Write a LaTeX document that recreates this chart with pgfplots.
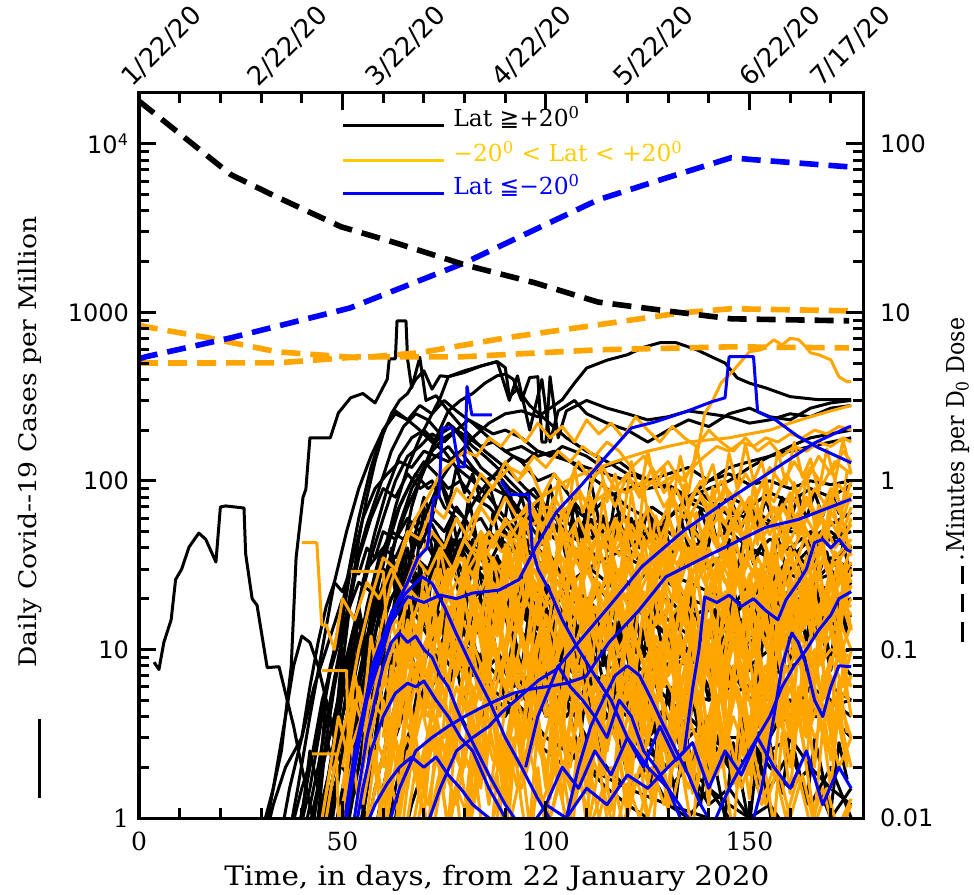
\documentclass[border=0pt]{standalone}
\usepackage{fontspec}
\setmainfont{DejaVu Serif}
\newfontfamily\tsans{DejaVu Sans}
\newfontfamily\lserif[FakeStretch=1.1]{DejaVu Serif}
\newfontfamily\nserif[FakeStretch=0.9]{DejaVu Serif}
\usepackage{pgfplots}
\pgfplotsset{compat=1.18}
\definecolor{cor}{HTML}{FFA500}
\definecolor{cbl}{HTML}{0000FF}
\definecolor{cgold}{HTML}{FFCC00}
\newcommand{\fs}[1]{\fontsize{#1}{#1}\selectfont}
\tikzset{dl/.style={rotate=45, anchor=base west, inner sep=0, font={\tsans\fs{13}}},
  tk/.style={black, line width=1.5pt}}
\pgfplotsset{
  every axis/.append style={
    scale only axis, width=362pt, height=362.5pt, at={(0,0)}, anchor=south west,
    xmin=0, xmax=177.9, ymode=log, axis on top,
    tick align=inside, major tick length=8.5pt, minor tick length=5pt,
    axis line style={line width=1.5pt},
    major tick style={draw=black, line width=1.5pt},
    minor tick style={draw=black, line width=1.5pt},
    clip mode=individual,
  },
  bk/.style={black, line width=1.5pt, line join=round},
  og/.style={cor, line width=1.5pt, line join=round},
  bu/.style={cbl, line width=1.5pt, line join=round},
  dsh/.style={line width=2.8pt, dash pattern=on 9.5pt off 5pt},
}
\begin{document}
\begin{tikzpicture}
\path[use as bounding box] (-69.5pt,-38pt) rectangle (417.5pt,409pt);
\begin{axis}[
  ymin=1, ymax=2e4,
  xtick={0,50,100,150}, xticklabels={0,50,100,150},
  minor xtick={10,20,30,40,60,70,80,90,110,120,130,140,160,170},
  xtick pos=both, ytick pos=left,
  ytick={1,10,100,1000,10000},
  yticklabels={{\fs{12.5}\rmfamily 1},10,100,1000,10\textsuperscript{4}},
  minor ytick={2,3,4,5,6,7,8,9,20,30,40,50,60,70,80,90,200,300,400,500,600,700,800,900,2000,3000,4000,5000,6000,7000,8000,9000},
  xticklabel style={font={\fs{12.5}}, yshift=-3.5pt},
  yticklabel style={font={\tsans\fs{12}}, xshift=-1.5pt},
]
% black: Lat >= +20
\addplot[bk] coordinates {(3.7,8.4)(4.9,7.6)(6.1,11)(7.9,15)(9,26)(10.5,30)(12.3,40.5)(14.7,49)(16.4,45)(18.9,33)(20,70)(21.3,71)(25.8,69)(26.2,37)(27.8,20)(29,18.3)(31.5,7.8)(34.4,7.9)(36,5.5)(38,3.5)(40,2)(42,1.2)(44,0.7)};
\addplot[bk] coordinates {(30,0.8)(33,1.5)(35,2.5)(37.4,7.9)(38.6,35)(40.3,80)(41,89)(42,180)(47,180)(49,253)(52,311)(55,330)(58,290)(61,400)(61.5,530)(63,530)(63.4,890)(65.6,890)(66,525)(67,356)(69,540)(70.5,300)(73,320)(76,260)(80,200)(85,150)(90,120)(95,90)(100,70)(105,50)(110,40)(120,25)(130,15)(140,10)(150,12)(160,15)(170,25)(175,30)};
\addplot[bk] coordinates {(45,1)(48,3)(50,8)(52,20)(54,45)(56,80)(58,130)(60,190)(62,250)(64,300)(66,330)(68,400)(70,450)(72,350)(74,420)(76,415)(80,450)(84,480)(88,510)(91,300)(93,420)(96,200)(99,400)(101,170)(103,260)(107,300)(110,250)(115,220)(120,200)(125,170)(130,200)(135,230)(140,210)(145,250)(150,270)(155,240)(160,230)(165,270)(170,290)(175,300)};
\addplot[bk] coordinates {(38,0.6)(42,1.5)(45,4)(48,10)(51,25)(54,60)(57,120)(60,200)(63,260)(66,230)(69,280)(72,250)(75,300)(78,260)(82,220)(86,180)(90,150)(94,130)(98,100)(102,110)(106,80)(110,60)(115,55)(120,40)(125,30)(130,25)(135,20)(140,18)(145,15)(150,20)(155,25)(160,30)(165,40)(170,45)(175,50)};
\addplot[bk] coordinates {(40,0.7)(44,2)(47,5)(50,12)(53,30)(56,55)(59,90)(62,150)(65,210)(68,250)(71,230)(74,190)(77,210)(80,170)(84,120)(88,100)(92,70)(96,55)(100,40)(105,25)(110,18)(115,12)(120,9)(125,7)(130,5)(135,4)(140,3)(145,2.5)(150,2)(155,2.5)(160,3)(165,2)(170,1.5)(175,1.2)};
\addplot[bk] coordinates {(42,0.8)(45,2)(48,4)(51,9)(54,18)(57,35)(60,60)(63,100)(66,140)(69,160)(72,190)(75,170)(78,200)(81,180)(84,160)(87,170)(90,150)(94,160)(98,140)(102,150)(106,130)(110,120)(115,110)(120,100)(125,90)(130,95)(135,80)(140,90)(145,100)(150,120)(155,140)(160,160)(165,180)(170,190)(175,200)};
\addplot[bk] coordinates {(35,0.5)(40,1.5)(44,3)(47,8)(50,15)(52,30)(55,60)(58,90)(61,110)(64,130)(67,120)(70,150)(73,140)(76,160)(79,130)(83,110)(87,90)(91,80)(95,60)(100,50)(105,40)(110,30)(115,35)(120,40)(125,50)(130,60)(135,80)(140,100)(145,120)(150,130)(155,140)(160,150)(165,160)(170,170)(175,180)};
\addplot[bk] coordinates {(45,0.6)(48,1.5)(51,3)(54,6)(57,12)(60,25)(63,45)(66,70)(69,100)(72,150)(75,180)(78,200)(81,230)(84,210)(87,190)(90,200)(94,180)(98,150)(102,140)(106,130)(110,110)(115,90)(120,70)(125,60)(130,50)(135,40)(140,45)(145,50)(150,40)(155,35)(160,40)(165,30)(170,35)(175,30)};
\addplot[bk] coordinates {(30,0.6)(33,1.2)(36,2)(40,3)(43,6)(46,10)(50,20)(53,15)(56,30)(60,40)(63,35)(66,50)(70,45)(74,30)(78,35)(82,20)(86,25)(90,15)(95,12)(100,10)(105,8)(110,6)(115,7)(120,5)(125,4)(130,3)(135,4)(140,3)(145,2)(150,3)(155,2)(160,1.5)(165,2)(170,1)(175,1.5)};
\addplot[bk] coordinates {(48,0.8)(51,2)(54,5)(57,10)(60,20)(63,30)(66,50)(69,40)(72,60)(75,50)(78,70)(81,55)(84,60)(87,45)(90,50)(94,35)(98,40)(102,30)(106,25)(110,30)(115,20)(120,25)(125,18)(130,20)(135,15)(140,18)(145,12)(150,15)(155,10)(160,12)(165,8)(170,10)(175,7)};
\addplot[bk] coordinates {(50,0.6)(53,1.5)(56,4)(59,8)(62,15)(65,25)(68,35)(71,30)(74,45)(77,35)(80,40)(84,30)(88,35)(92,25)(96,20)(100,25)(105,15)(110,12)(115,15)(120,10)(125,12)(130,8)(135,10)(140,6)(145,8)(150,5)(155,7)(160,4)(165,6)(170,5)(175,4)};
\addplot[bk] coordinates {(52,0.7)(55,2)(58,5)(61,12)(64,20)(67,30)(70,25)(73,40)(76,30)(79,45)(82,35)(86,50)(90,40)(94,55)(98,60)(102,50)(106,70)(110,60)(115,80)(120,90)(125,100)(130,110)(135,120)(140,100)(145,110)(150,95)(155,100)(160,90)(165,100)(170,95)(175,100)};
\addplot[bk] coordinates {(55,0.6)(58,1.5)(61,3)(64,6)(67,10)(70,8)(73,15)(76,12)(79,20)(82,15)(85,25)(89,18)(93,22)(97,15)(101,20)(105,12)(110,15)(115,10)(120,14)(125,9)(130,12)(135,8)(140,10)(145,15)(150,20)(155,25)(160,35)(165,45)(170,55)(175,65)};
\addplot[bk] coordinates {(58,0.8)(61,2)(64,4)(67,7)(70,5)(73,9)(76,6)(79,10)(82,7)(86,12)(90,8)(94,11)(98,6)(102,9)(106,5)(110,8)(115,4)(120,6)(125,3)(130,5)(135,2)(140,4)(145,2)(150,3)(155,1.5)(160,2.5)(165,1.2)(170,2)(175,1)};
\addplot[bk] coordinates {(44,0.6)(47,1.5)(50,3)(53,7)(56,15)(59,30)(62,55)(65,80)(68,110)(71,90)(74,100)(77,70)(80,60)(84,40)(88,30)(92,20)(96,14)(100,10)(105,7)(110,5)(115,4)(120,3)(125,2.5)(130,2)(135,3)(140,4)(145,6)(150,8)(155,10)(160,15)(165,12)(170,18)(175,20)};
\addplot[bk] coordinates {(60,0.6)(63,1.5)(66,3)(69,5)(72,8)(75,12)(78,10)(81,15)(84,12)(88,18)(92,14)(96,20)(100,16)(105,22)(110,18)(115,25)(120,20)(125,30)(130,25)(135,35)(140,30)(145,40)(150,35)(155,45)(160,40)(165,50)(170,45)(175,55)};
\addplot[bk] coordinates {(46,0.7)(49,1.8)(52,4)(55,9)(58,20)(61,40)(64,70)(67,100)(70,130)(73,110)(76,90)(79,100)(82,80)(86,70)(90,55)(95,40)(100,30)(105,22)(110,16)(115,12)(120,10)(125,9)(130,8)(135,10)(140,12)(145,10)(150,14)(155,12)(160,16)(165,20)(170,18)(175,25)};
\addplot[bk] coordinates {(50,0.8)(54,2)(58,6)(62,15)(66,30)(70,60)(74,100)(78,140)(82,180)(86,220)(90,250)(94,260)(98,240)(102,280)(104,303)(107,380)(110,467)(115,520)(120,560)(124,620)(128,660)(132,660)(137,600)(141,540)(144,500)(147,408)(150,380)(154,356)(160,316)(167,303)(175,303)};
\addplot[bk] coordinates {(55,1)(58,3)(61,10)(64,30)(67,70)(70,120)(73,180)(76,260)(79,300)(82,330)(85,380)(88,420)(90,430)(92,400)(94,300)(96,410)(98,415)(99,170)(100,170)(101,415)(103,180)(105,260)(110,300)(115,270)(120,250)(125,230)(130,240)(135,260)(140,250)(145,240)(150,220)(155,230)(160,250)(165,240)(170,270)(175,280)};
\addplot[bk] coordinates {(48,0.8)(51,2)(54,6)(57,15)(60,35)(63,70)(66,120)(69,180)(72,250)(74,310)(76,415)(80,440)(84,480)(88,510)(90,470)(91,316)(93,350)(96,280)(100,230)(105,180)(110,150)(115,130)(120,110)(125,100)(130,90)(135,80)(140,70)(145,65)(150,60)(155,55)(160,50)(165,48)(170,45)(175,40)};
\addplot[bk] coordinates {(36,0.6)(39,1.5)(42,4)(45,10)(48,25)(51,50)(54,90)(57,140)(60,200)(63,250)(66,230)(69,200)(72,170)(75,150)(78,120)(82,100)(86,80)(90,60)(95,45)(100,35)(105,25)(110,20)(115,15)(120,12)(125,10)(130,9)(135,8)(140,10)(145,12)(150,11)(155,13)(160,15)(165,12)(170,14)(175,16)};
\addplot[bk] coordinates {(62,0.7)(65,2)(68,5)(71,12)(74,25)(77,40)(80,60)(83,80)(86,100)(89,120)(92,140)(95,130)(98,150)(101,140)(104,160)(107,150)(110,140)(114,120)(118,130)(122,110)(126,100)(130,90)(134,80)(138,85)(142,70)(146,60)(150,70)(154,60)(158,50)(162,55)(166,45)(170,50)(175,40)};
\addplot[bk] coordinates {(40,0.5)(43,1.2)(46,2.5)(49,5)(52,9)(55,14)(58,20)(61,18)(64,25)(67,20)(70,15)(73,18)(76,12)(79,10)(82,8)(86,6)(90,5)(95,4)(100,3)(105,2.5)(110,2)(115,1.5)(120,1.2)(125,1)(130,0.8)(140,0.6)};
\addplot[bk] coordinates {(53,0.6)(56,1.5)(59,3.5)(62,8)(65,14)(68,22)(71,30)(74,25)(77,35)(80,28)(83,40)(86,32)(89,45)(92,38)(95,50)(98,42)(102,55)(106,45)(110,60)(114,50)(118,65)(122,55)(126,70)(130,60)(135,75)(140,65)(145,80)(150,70)(155,85)(160,75)(165,90)(170,80)(175,95)};
\addplot[bk] coordinates {(47,0.5)(50,1.2)(53,3)(56,7)(59,12)(62,20)(65,28)(68,24)(71,20)(74,16)(77,12)(80,9)(84,7)(88,5)(92,4)(96,3)(100,2.5)(105,2)(110,3)(115,2)(120,1.5)(125,2)(130,1.2)(135,1)(140,1.5)(145,1)(150,0.8)};
\addplot[bk] coordinates {(57,0.6)(60,1.5)(63,3)(66,5)(69,8)(72,6)(75,9)(78,7)(82,10)(86,6)(90,8)(95,5)(100,7)(105,4)(110,6)(115,3)(120,5)(125,3)(130,4)(135,2)(140,3)(145,2)(150,4)(155,3)(160,5)(165,4)(170,6)(175,5)};
\addplot[bk] coordinates {(64,0.6)(67,1.2)(70,2)(73,3)(76,2.5)(79,4)(82,3)(86,5)(90,4)(94,6)(98,5)(102,8)(106,6)(110,10)(114,8)(118,12)(122,10)(126,15)(130,12)(134,18)(138,15)(142,20)(146,18)(150,25)(155,20)(160,28)(165,24)(170,32)(175,30)};
\addplot[bk] coordinates {(34,0.6)(37,1.5)(40,3)(42,6)(44,11)(46,18)(48,25)(50,22)(52,30)(54,28)(56,40)(58,35)(60,50)(63,45)(66,60)(69,50)(72,55)(75,40)(78,45)(82,30)(86,25)(90,20)(95,15)(100,12)(105,9)(110,7)(115,5)(120,4)(125,3)(130,2.5)(135,2)(140,1.5)(145,1.2)(150,1)};
\addplot[bk] coordinates {(41,0.5)(44,1)(47,2)(50,4)(53,8)(56,12)(59,18)(62,14)(65,20)(68,16)(71,12)(74,14)(77,9)(80,11)(84,7)(88,9)(92,6)(96,7)(100,4)(105,5)(110,3)(115,4)(120,2)(125,3)(130,1.5)(135,2)(140,1.2)(145,1.5)(150,1)(155,1.2)(160,0.8)};
\addplot[bk] coordinates {(30,0.6)(33,1.5)(36,4)(38,8)(40,12)(42,11)(44,8)(46,5)(48,3)(50,2)(53,1.5)(56,1)(60,0.7)};
\addplot[bk] coordinates {(43,0.6)(46,1.5)(49,4)(52,10)(55,25)(58,50)(61,90)(64,140)(67,180)(70,200)(73,170)(76,220)(79,190)(82,160)(85,140)(88,120)(91,100)(95,80)(99,60)(103,50)(107,40)(111,30)(115,25)(120,20)(125,15)(130,12)(135,10)(140,8)(145,7)(150,6)(155,5)(160,5)(165,4)(170,4)(175,3)};
\addplot[bk] coordinates {(49,0.7)(52,2)(55,5)(58,12)(61,28)(64,55)(67,90)(70,120)(73,140)(76,130)(79,150)(82,120)(85,100)(88,110)(91,90)(94,80)(97,90)(100,70)(104,60)(108,50)(112,45)(116,40)(120,35)(125,30)(130,28)(135,25)(140,22)(145,20)(150,18)(155,20)(160,22)(165,25)(170,28)(175,32)};
\addplot[bk] coordinates {(42,0.7)(45,2)(48,6)(51,15)(54,35)(57,60)(60,90)(63,80)(66,110)(69,90)(72,100)(75,70)(78,60)(82,40)(86,30)(90,25)(95,18)(100,14)(105,10)(110,8)(115,6)(120,5)(130,4)(140,3)(150,3)(160,4)(175,5)};
\addplot[bk] coordinates {(47,0.8)(50,2.5)(53,7)(56,18)(59,35)(62,50)(65,45)(68,60)(71,50)(74,40)(77,45)(80,35)(84,28)(88,22)(92,18)(96,15)(100,12)(105,10)(110,9)(115,8)(120,7)(130,6)(140,5)(150,6)(160,8)(175,10)};
\addplot[bk] coordinates {(39,0.8)(42,2)(45,5)(48,9)(51,16)(54,25)(57,22)(60,30)(63,26)(66,20)(69,24)(72,18)(75,14)(78,16)(81,11)(84,9)(88,7)(92,5)(96,4)(100,3)(105,2.5)(110,2)(120,1.5)(130,1.2)(140,1)};
\addplot[bk] coordinates {(44,1)(46,3)(48,2)(50,6)(52,4)(54,12)(56,7)(58,20)(60,11)(62,30)(64,16)(66,40)(68,22)(70,14)(72,35)(74,20)(76,45)(78,25)(80,15)(82,35)(84,20)(86,12)(88,28)(90,16)(92,10)(94,22)(96,13)(98,8)(100,18)(102,10)(104,6)(106,14)(108,8)(110,5)(112,11)(114,6.5)(116,4)(118,9)(120,5)(122,3)(124,7)(126,4)(128,2.5)(130,6)(132,3.5)(134,2)(136,5)(138,3)(140,1.8)(142,4.5)(144,2.6)(146,1.6)(148,4)(150,2.4)(152,1.5)(154,3.6)(156,2.2)(158,1.4)(160,3.2)(162,2)(164,1.2)(166,3)(168,1.8)(170,1.1)(172,2.8)(174,1.7)};
\addplot[bk] coordinates {(40,1)(42,2.5)(44,1.5)(46,5)(48,3)(50,10)(52,6)(54,18)(56,10)(58,28)(60,15)(62,40)(64,22)(66,55)(68,30)(70,70)(72,40)(74,25)(76,55)(78,32)(80,20)(82,45)(84,26)(86,16)(88,36)(90,21)(92,13)(94,30)(96,17)(98,10)(100,24)(102,14)(104,8.5)(106,20)(108,12)(110,7)(112,17)(114,10)(116,6)(118,15)(120,9)(122,5.5)(124,14)(126,8)(128,5)(130,13)(132,8)(134,5)(136,13)(138,8)(140,5)(142,14)(144,8.5)(146,5.5)(148,15)(150,9)(152,6)(154,16)(156,10)(158,6.5)(160,17)(162,11)(164,7)(166,18)(168,12)(170,7.5)(172,20)(174,13)};
\addplot[bk] coordinates {(50,1)(52,2)(54,4)(56,2.5)(58,6)(60,3.5)(62,9)(64,5)(66,13)(68,7)(70,4)(72,10)(74,6)(76,15)(78,8)(80,4.5)(82,12)(84,7)(86,17)(88,9)(90,5)(92,13)(94,7.5)(96,18)(98,10)(100,5.5)(102,14)(104,8)(106,19)(108,10)(110,6)(112,15)(114,8.5)(116,20)(118,11)(120,6.5)(122,16)(124,9)(126,21)(128,12)(130,7)(132,17)(134,9.5)(136,22)(138,12)(140,7)(142,18)(144,10)(146,24)(148,13)(150,7.5)(152,19)(154,11)(156,25)(158,14)(160,8)(162,20)(164,11)(166,26)(168,15)(170,8.5)(172,21)(174,12)};
\addplot[bk] coordinates {(55,1)(57,3)(59,6)(61,12)(63,8)(65,20)(67,12)(69,32)(71,18)(73,45)(75,25)(77,60)(79,35)(81,80)(83,45)(85,30)(87,65)(89,40)(91,90)(93,50)(95,32)(97,70)(99,42)(101,95)(103,55)(105,35)(107,75)(109,45)(111,100)(113,58)(115,38)(117,80)(119,48)(121,60)(123,40)(125,70)(127,45)(129,55)(131,36)(133,62)(135,40)(137,50)(139,32)(141,55)(143,35)(145,45)(147,30)(149,50)(151,32)(153,42)(155,28)(157,46)(159,30)(161,40)(163,26)(165,44)(167,28)(169,38)(171,25)(173,42)(175,27)};
\addplot[bk] coordinates {(46,1)(48,2)(50,4)(52,8)(54,15)(56,9)(58,25)(60,14)(62,35)(64,20)(66,12)(68,28)(70,16)(72,10)(74,22)(76,13)(78,8)(80,18)(82,10)(84,6)(86,14)(88,8)(90,5)(92,11)(94,6.5)(96,4)(98,9)(100,5)(102,3)(104,7)(106,4)(108,2.5)(110,6)(112,3.5)(114,2)(116,5)(118,3)(120,1.8)(122,4.5)(124,2.6)(126,1.5)(128,4)(130,2.3)(132,1.3)(134,3.5)(136,2)(138,1.2)(140,3)(142,1.8)(144,1)(146,2.8)(148,1.6)(150,0.9)(152,2.5)(154,1.5)(156,0.8)};
\addplot[bk] coordinates {(60,2)(62,6)(64,15)(66,30)(68,50)(70,80)(72,60)(74,100)(76,70)(78,120)(80,85)(82,110)(84,75)(86,95)(88,65)(90,85)(92,60)(94,80)(96,55)(98,75)(100,50)(102,70)(104,48)(106,68)(108,45)(110,65)(112,44)(114,62)(116,42)(118,60)(120,40)(122,58)(124,40)(126,60)(128,42)(130,62)(132,44)(134,65)(136,46)(138,68)(140,48)(142,70)(144,50)(146,72)(148,52)(150,75)(152,54)(154,78)(156,56)(158,80)(160,58)(162,82)(164,60)(166,85)(168,62)(170,88)(172,64)(174,90)};
% orange: -20 < Lat < +20
\addplot[og] coordinates {(55,0.6)(58,1.5)(61,3)(64,6)(67,10)(70,15)(73,20)(76,30)(79,25)(82,40)(85,35)(88,50)(91,45)(94,60)(97,55)(100,70)(104,65)(108,80)(112,75)(116,90)(120,85)(124,100)(128,95)(132,110)(134,100)(137,139)(139,250)(141,300)(143,380)(146,450)(150,583)(153,600)(156,687)(158,640)(160,700)(162,690)(164,620)(165,575)(167,560)(170,522)(172,414)(174,387)(175,390)};
\addplot[og] coordinates {(60,0.7)(63,2)(66,4)(69,8)(72,12)(75,18)(78,25)(81,30)(84,40)(87,45)(90,55)(93,60)(96,70)(99,80)(102,90)(105,100)(109,110)(113,120)(117,130)(121,140)(125,150)(130,160)(135,170)(140,175)(145,180)(150,190)(155,200)(160,220)(165,240)(170,260)(175,280)};
\addplot[og] coordinates {(50,0.8)(53,2)(56,5)(59,12)(62,25)(65,40)(68,60)(71,80)(74,110)(77,130)(80,150)(83,140)(86,180)(89,160)(92,200)(95,170)(98,220)(101,180)(104,210)(107,170)(110,230)(113,190)(116,220)(119,180)(122,240)(125,200)(128,170)(131,210)(134,180)(137,160)(140,200)(143,170)(146,150)(149,180)(152,150)(155,170)(158,140)(161,160)(164,150)(167,170)(170,160)(173,180)(175,170)};
\addplot[og] coordinates {(45,0.7)(48,2)(51,4)(54,10)(57,20)(60,35)(63,30)(66,50)(69,45)(72,70)(75,60)(78,90)(81,75)(84,110)(87,90)(90,130)(93,100)(96,120)(99,80)(102,110)(105,90)(108,130)(111,100)(114,120)(117,90)(120,110)(123,80)(126,100)(129,70)(132,90)(135,60)(138,80)(141,55)(144,70)(147,50)(150,65)(153,45)(156,60)(159,40)(162,55)(165,38)(168,50)(171,35)(175,45)};
\addplot[og] coordinates {(62,0.6)(65,1.5)(68,3)(71,6)(74,4)(77,9)(80,7)(83,14)(86,10)(89,20)(92,15)(95,28)(98,20)(101,35)(104,25)(107,40)(110,30)(113,50)(116,38)(119,60)(122,45)(125,70)(128,55)(131,80)(134,60)(137,90)(140,70)(143,100)(146,80)(149,110)(152,85)(155,120)(158,95)(161,130)(164,100)(167,140)(170,110)(173,150)(175,130)};
\addplot[og] coordinates {(65,0.7)(68,2)(71,1.2)(74,3)(77,2)(80,5)(83,3)(86,7)(89,4)(92,9)(95,6)(98,12)(101,8)(104,15)(107,10)(110,18)(113,12)(116,22)(119,14)(122,25)(125,16)(128,30)(131,20)(134,35)(137,24)(140,40)(143,28)(146,45)(149,30)(152,50)(155,35)(158,55)(161,40)(164,60)(167,45)(170,65)(173,50)(175,70)};
\addplot[og] coordinates {(58,0.8)(61,2)(64,1)(67,3)(70,1.5)(73,4)(76,2)(79,6)(82,3)(85,5)(88,2)(91,7)(94,3)(97,8)(100,4)(103,6)(106,2)(109,9)(112,4)(115,7)(118,3)(121,10)(124,5)(127,8)(130,3)(133,12)(136,6)(139,9)(142,4)(145,14)(148,7)(151,11)(154,5)(157,15)(160,8)(163,12)(166,6)(169,18)(172,9)(175,14)};
\addplot[og] coordinates {(70,0.6)(73,1.5)(76,3)(79,2)(82,5)(85,3.5)(88,8)(91,5)(94,12)(97,8)(100,16)(103,10)(106,20)(109,13)(112,25)(115,16)(118,30)(121,20)(124,22)(127,14)(130,18)(133,10)(136,15)(139,8)(142,12)(145,6)(148,10)(151,5)(154,8)(157,4)(160,7)(163,3)(166,6)(169,2.5)(172,5)(175,3)};
\addplot[og] coordinates {(48,0.6)(51,1.5)(54,3)(57,6)(60,10)(63,15)(66,12)(69,20)(72,16)(75,25)(78,18)(81,30)(84,22)(87,35)(90,25)(93,40)(96,28)(99,45)(102,30)(105,50)(108,35)(111,55)(114,40)(117,60)(120,45)(123,50)(126,38)(129,45)(132,32)(135,40)(138,28)(141,35)(144,25)(147,30)(150,22)(153,28)(156,20)(159,25)(162,18)(165,22)(168,16)(171,20)(175,18)};
\addplot[og] coordinates {(75,0.7)(78,1.5)(81,1)(84,2.5)(87,1.5)(90,3)(93,2)(96,4)(99,2.5)(102,5)(105,3)(108,6)(111,3.5)(114,7)(117,4)(120,8)(123,5)(126,10)(129,6)(132,12)(135,7)(138,14)(141,8)(144,16)(147,10)(150,20)(153,12)(156,25)(159,15)(162,30)(165,18)(168,35)(171,22)(175,40)};
\addplot[og] coordinates {(52,0.7)(55,2)(58,4)(61,8)(64,14)(67,22)(70,18)(73,30)(76,24)(79,35)(82,28)(85,40)(88,30)(91,35)(94,25)(97,30)(100,20)(103,25)(106,16)(109,20)(112,12)(115,16)(118,10)(121,14)(124,8)(127,12)(130,7)(133,10)(136,6)(139,9)(142,5)(145,8)(148,4)(151,7)(154,4)(157,6)(160,3)(163,5)(166,3)(169,4)(172,2)(175,3)};
\addplot[og] coordinates {(80,0.6)(83,1.5)(86,3)(89,2)(92,5)(95,3)(98,8)(101,5)(104,12)(107,7)(110,16)(113,10)(116,22)(119,14)(122,28)(125,18)(128,35)(131,24)(134,42)(137,30)(140,50)(143,36)(146,58)(149,42)(152,65)(155,48)(158,72)(161,55)(164,80)(167,60)(170,90)(173,70)(175,100)};
\addplot[og] coordinates {(60,1)(63,3)(66,1.5)(69,5)(72,2.5)(75,8)(78,4)(81,10)(84,5)(87,12)(90,6)(93,14)(96,7)(99,15)(102,8)(105,17)(108,9)(111,18)(114,10)(117,20)(120,11)(123,22)(126,12)(129,24)(132,13)(135,26)(138,14)(141,28)(144,15)(147,30)(150,16)(153,32)(156,17)(159,34)(162,18)(165,36)(168,19)(171,38)(175,25)};
\addplot[og] coordinates {(85,0.7)(88,1.2)(91,2)(94,1.5)(97,3)(100,2)(103,4)(106,2.5)(109,5)(112,3)(115,6)(118,3.5)(121,7)(124,4)(127,5)(130,2.5)(133,4)(136,2)(139,3.5)(142,1.8)(145,3)(148,1.5)(151,2.5)(154,1.2)(157,2)(160,1)(163,1.8)(166,0.9)(169,1.5)(172,0.8)(175,1.2)};
\addplot[og] coordinates {(66,0.6)(69,1.5)(72,4)(75,10)(78,20)(81,35)(84,50)(87,40)(90,60)(93,45)(96,70)(99,50)(102,80)(105,60)(108,90)(111,65)(114,100)(117,70)(120,110)(123,80)(126,120)(129,85)(132,110)(135,75)(138,100)(141,70)(144,90)(147,60)(150,80)(153,55)(156,70)(159,50)(162,65)(165,45)(168,60)(171,40)(175,55)};
\addplot[og] coordinates {(72,0.8)(75,2)(78,1.2)(81,3)(84,1.8)(87,4)(90,2.2)(93,5)(96,2.8)(99,6)(102,3.2)(105,7)(108,3.8)(111,8)(114,4.2)(117,9)(120,5)(123,10)(126,5.5)(129,12)(132,6)(135,13)(138,7)(141,15)(144,8)(147,16)(150,9)(153,18)(156,10)(159,20)(162,11)(165,22)(168,12)(171,24)(175,13)};
\addplot[og] coordinates {(90,0.7)(93,1.5)(96,3)(99,5)(102,8)(105,12)(108,10)(111,18)(114,15)(117,25)(120,20)(123,35)(126,28)(129,45)(132,38)(135,55)(138,45)(141,70)(144,55)(147,85)(150,65)(153,95)(156,75)(159,110)(162,85)(165,120)(168,95)(171,130)(175,110)};
\addplot[og] coordinates {(57,0.5)(60,1)(63,2)(66,3)(69,2)(72,4)(75,3)(78,6)(81,4)(84,8)(87,5)(90,10)(93,6)(96,12)(99,7)(102,9)(105,5)(108,8)(111,4)(114,7)(117,3.5)(120,6)(123,3)(126,5)(129,2.5)(132,4)(135,2)(138,3.5)(141,1.8)(144,3)(147,1.5)(150,2.5)(153,1.2)(156,2)(159,1)(162,1.8)(165,0.9)(168,1.5)(171,0.8)(175,1.3)};
\addplot[og] coordinates {(95,0.7)(98,1.5)(101,1)(104,2)(107,1.3)(110,2.8)(113,1.8)(116,3.5)(119,2.2)(122,4.5)(125,2.8)(128,5.5)(131,3.5)(134,7)(137,4.5)(140,9)(143,5.5)(146,11)(149,7)(152,14)(155,9)(158,18)(161,11)(164,22)(167,14)(170,28)(173,18)(175,30)};
\addplot[og] coordinates {(40,43)(43.7,43)(44.9,14)(46,14)(48,10)(50,20)(53,15)(56,25)(59,20)(62,30)(65,22)(68,35)(71,28)(74,40)(77,30)(80,45)(83,35)(86,50)(89,38)(92,45)(95,32)(98,40)(101,28)(104,35)(107,25)(110,30)(113,22)(116,28)(119,20)(122,25)(125,18)(128,22)(131,16)(134,20)(137,14)(140,18)(143,12)(146,16)(149,11)(152,14)(155,10)(158,12)(161,9)(164,11)(167,8)(170,10)(175,9)};
\addplot[og] coordinates {(45,7.5)(51,7.5)(51.5,2.4)(53,3)(56,5)(59,8)(62,6)(65,10)(68,8)(71,12)(74,9)(77,14)(80,10)(83,16)(86,12)(89,18)(92,13)(95,20)(98,14)(101,22)(104,15)(107,24)(110,16)(113,25)(116,18)(119,27)(122,19)(125,28)(128,20)(131,30)(134,21)(137,32)(140,22)(143,33)(146,24)(149,35)(152,25)(155,36)(158,26)(161,38)(164,28)(167,40)(170,30)(175,42)};
\addplot[og] coordinates {(52,29)(60,29)(61,12)(63,18)(66,25)(69,35)(72,50)(75,40)(78,60)(81,45)(84,70)(87,55)(90,80)(93,60)(96,75)(99,55)(102,65)(105,45)(108,60)(111,40)(114,55)(117,38)(120,50)(123,35)(126,48)(129,33)(132,45)(135,30)(138,42)(141,28)(144,40)(147,26)(150,38)(153,25)(156,36)(159,24)(162,35)(165,23)(168,34)(171,22)(175,33)};
\addplot[og] coordinates {(42.5,2.4)(48.5,2.4)(49,1)(51,1.5)(54,3)(57,5)(60,4)(63,7)(66,5)(69,9)(72,6)(75,11)(78,7)(81,13)(84,8)(87,10)(90,6)(93,9)(96,5)(99,8)(102,4)(105,7)(108,4)(111,6)(114,3)(117,5)(120,3)(123,6)(126,4)(129,7)(132,5)(135,9)(138,6)(141,11)(144,7)(147,13)(150,8)(153,15)(156,10)(159,18)(162,12)(165,20)(168,14)(171,22)(175,16)};
\addplot[og] coordinates {(68,0.8)(71,2)(74,5)(77,3)(80,8)(83,5)(86,12)(89,7)(92,16)(95,10)(98,20)(101,13)(104,25)(107,16)(110,30)(113,20)(116,35)(119,24)(122,40)(125,28)(128,45)(131,32)(134,50)(137,36)(140,55)(143,40)(146,60)(149,44)(152,65)(155,48)(158,70)(161,52)(164,75)(167,56)(170,80)(173,60)(175,85)};
\addplot[og] coordinates {(100,0.8)(103,1.5)(106,3)(109,2)(112,4)(115,2.5)(118,6)(121,3.5)(124,8)(127,5)(130,10)(133,6)(136,12)(139,7)(142,10)(145,5)(148,8)(151,4)(154,7)(157,3.5)(160,6)(163,3)(166,5)(169,2.5)(172,4)(175,2)};
\addplot[og] coordinates {(55,1.2)(58,3)(61,2)(64,5)(67,3)(70,8)(73,5)(76,12)(79,8)(82,18)(85,12)(88,25)(91,16)(94,30)(97,20)(100,35)(103,24)(106,40)(109,28)(112,45)(115,30)(118,50)(121,34)(124,55)(127,38)(130,60)(133,42)(136,65)(139,46)(142,70)(145,50)(148,75)(151,55)(154,80)(157,60)(160,85)(163,65)(166,90)(169,70)(172,95)(175,75)};
\addplot[og] coordinates {(63,0.9)(66,2.5)(69,1.5)(72,3)(75,1.8)(78,3.5)(81,2)(84,4)(87,2.2)(90,3)(93,1.5)(96,2.5)(99,1.2)(102,2)(105,1)(108,1.8)(111,0.9)(114,1.5)(117,0.8)(120,1.6)(123,1)(126,2)(129,1.2)(132,2.5)(135,1.5)(138,3)(141,1.8)(144,3.5)(147,2)(150,4)(153,2.5)(156,4.5)(159,3)(162,5)(165,3.5)(168,6)(171,4)(175,7)};
\addplot[og] coordinates {(76,1)(79,2)(82,4)(85,8)(88,14)(91,22)(94,18)(97,30)(100,24)(103,38)(106,28)(109,45)(112,32)(115,50)(118,36)(121,55)(124,40)(127,48)(130,32)(133,42)(136,28)(139,38)(142,25)(145,34)(148,22)(151,30)(154,20)(157,27)(160,18)(163,24)(166,16)(169,22)(172,15)(175,20)};
\addplot[og] coordinates {(110,0.8)(113,2)(116,4)(119,3)(122,7)(125,5)(128,11)(131,8)(134,16)(137,12)(140,22)(143,16)(146,28)(149,20)(152,35)(155,25)(158,42)(161,30)(164,50)(167,35)(170,58)(173,42)(175,60)};
\addplot[og] coordinates {(50,2)(53,5)(56,3)(59,8)(62,5)(65,10)(68,6)(71,4)(74,7)(77,3)(80,6)(83,2.5)(86,5)(89,2)(92,4)(95,1.8)(98,3.5)(101,1.5)(104,3)(107,1.2)(110,2.5)(113,1)(116,2)(119,0.9)(122,1.8)(125,1)(128,2)(131,1.2)(134,2.5)(137,1.5)(140,3)(143,2)(146,4)(149,2.5)(152,5)(155,3)(158,6)(161,4)(164,7)(167,5)(170,9)(173,6)(175,10)};
\addplot[og] coordinates {(88,1)(91,3)(94,6)(97,4)(100,9)(103,6)(106,13)(109,9)(112,18)(115,12)(118,24)(121,16)(124,30)(127,20)(130,36)(133,25)(136,42)(139,30)(142,35)(145,22)(148,30)(151,18)(154,26)(157,15)(160,22)(163,13)(166,18)(169,11)(172,15)(175,10)};
\addplot[og] coordinates {(120,1)(123,2)(126,1.5)(129,3)(132,2)(135,4)(138,2.5)(141,5)(144,3)(147,6)(150,3.5)(153,7)(156,4)(159,8)(162,4.5)(165,9)(168,5)(171,10)(175,6)};
\addplot[og] coordinates {(58,0.7)(61,1.8)(64,4)(67,8)(70,6)(73,12)(76,9)(79,16)(82,11)(85,20)(88,14)(91,24)(94,16)(97,26)(100,18)(103,22)(106,14)(109,18)(112,11)(115,15)(118,9)(121,13)(124,8)(127,12)(130,7)(133,11)(136,7)(139,12)(142,8)(145,14)(148,9)(151,16)(154,11)(157,18)(160,12)(163,20)(166,14)(169,22)(172,15)(175,24)};
\addplot[og] coordinates {(70,5)(73,12)(76,25)(79,40)(82,60)(85,80)(88,100)(91,120)(94,110)(97,140)(100,120)(103,150)(106,130)(109,160)(112,140)(115,170)(118,150)(121,120)(124,140)(127,110)(130,130)(133,100)(136,120)(139,140)(142,160)(145,150)(148,170)(151,160)(154,180)(157,170)(160,190)(163,180)(166,200)(169,190)(172,210)(175,200)};
\addplot[og] coordinates {(56,1)(58,2.5)(60,1.2)(62,4)(64,2)(66,6)(68,3)(70,1.5)(72,5)(74,2.2)(76,7)(78,3)(80,9)(82,4)(84,2)(86,8)(88,3.5)(90,11)(92,5)(94,2.5)(96,9)(98,4)(100,13)(102,6)(104,3)(106,10)(108,5)(110,15)(112,7)(114,3.5)(116,12)(118,6)(120,18)(122,8)(124,4)(126,14)(128,7)(130,20)(132,9)(134,5)(136,16)(138,8)(140,22)(142,10)(144,5)(146,18)(148,9)(150,25)(152,11)(154,6)(156,20)(158,10)(160,28)(162,12)(164,6)(166,22)(168,11)(170,30)(172,14)(174,8)};
\addplot[og] coordinates {(60,3)(62,8)(64,5)(66,14)(68,9)(70,22)(72,12)(74,30)(76,15)(78,10)(80,25)(82,18)(84,40)(86,20)(88,12)(90,30)(92,16)(94,45)(96,22)(98,14)(100,35)(102,20)(104,12)(106,28)(108,40)(110,18)(112,26)(114,13)(116,32)(118,20)(120,45)(122,24)(124,15)(126,30)(128,18)(130,38)(132,22)(134,14)(136,28)(138,42)(140,20)(142,30)(144,16)(146,35)(148,22)(150,48)(152,25)(154,15)(156,32)(158,20)(160,40)(162,24)(164,14)(166,30)(168,45)(170,22)(172,35)(174,18)};
\addplot[og] coordinates {(50,1.5)(52,3)(54,1.2)(56,4)(58,2)(60,0.8)(62,3)(64,1.5)(66,5)(68,2.2)(70,1)(72,3.5)(74,1.8)(76,0.9)(78,4)(80,2)(82,6)(84,2.5)(86,1.2)(88,3)(90,1.5)(92,5)(94,2.2)(96,0.9)(98,3.5)(100,1.6)(102,4.5)(104,2)(106,1)(108,3)(110,1.4)(112,5)(114,2.4)(116,1.1)(118,3.8)(120,1.7)(122,6)(124,2.6)(126,1.2)(128,4)(130,2)(132,7)(134,3)(136,1.4)(138,4.5)(140,2.2)(142,8)(144,3.5)(146,1.6)(148,5)(150,2.5)(152,9)(154,4)(156,1.8)(158,6)(160,3)(162,10)(164,4.5)(166,2)(168,7)(170,3.5)(172,12)(174,5)};
\addplot[og] coordinates {(70,4)(72,10)(74,7)(76,18)(78,12)(80,30)(82,16)(84,45)(86,25)(88,15)(90,40)(92,22)(94,60)(96,30)(98,18)(100,50)(102,28)(104,70)(106,35)(108,20)(110,55)(112,30)(114,80)(116,40)(118,25)(120,60)(122,35)(124,90)(126,45)(128,28)(130,65)(132,38)(134,95)(136,48)(138,30)(140,70)(142,40)(144,100)(146,50)(148,32)(150,75)(152,42)(154,105)(156,52)(158,34)(160,80)(162,45)(164,110)(166,55)(168,36)(170,85)(172,48)(174,115)};
\addplot[og] coordinates {(58,2)(60,5)(62,3)(64,9)(66,5)(68,14)(70,7)(72,20)(74,10)(76,6)(78,16)(80,9)(82,24)(84,12)(86,7)(88,18)(90,10)(92,26)(94,13)(96,8)(98,20)(100,11)(102,6)(104,15)(106,9)(108,22)(110,11)(112,6)(114,16)(116,9)(118,24)(120,12)(122,7)(124,18)(126,10)(128,5)(130,14)(132,8)(134,20)(136,10)(138,6)(140,15)(142,8)(144,22)(146,11)(148,6)(150,16)(152,9)(154,24)(156,12)(158,7)(160,18)(162,10)(164,26)(166,13)(168,8)(170,20)(172,11)(174,28)};
\addplot[og] coordinates {(65,1)(67,2.5)(69,1.3)(71,0.8)(73,3)(75,1.5)(77,4)(79,2)(81,1)(83,3.5)(85,1.7)(87,5)(89,2.3)(91,1.1)(93,4)(95,2)(97,6)(99,2.8)(101,1.3)(103,4.5)(105,2.2)(107,7)(109,3.2)(111,1.5)(113,5)(115,2.5)(117,8)(119,3.6)(121,1.7)(123,5.5)(125,2.7)(127,9)(129,4)(131,1.9)(133,6)(135,3)(137,10)(139,4.4)(141,2.1)(143,6.5)(145,3.2)(147,11)(149,4.8)(151,2.3)(153,7)(155,3.5)(157,12)(159,5.2)(161,2.5)(163,7.5)(165,3.8)(167,13)(169,5.6)(171,2.7)(173,8)(175,4)};
\addplot[og] coordinates {(75,2)(77,6)(79,12)(81,8)(83,20)(85,14)(87,35)(89,20)(91,50)(93,30)(95,18)(97,45)(99,28)(101,70)(103,38)(105,22)(107,55)(109,32)(111,80)(113,42)(115,25)(117,60)(119,35)(121,85)(123,45)(125,28)(127,62)(129,36)(131,90)(133,48)(135,30)(137,65)(139,38)(141,92)(143,50)(145,32)(147,68)(149,40)(151,95)(153,52)(155,33)(157,70)(159,42)(161,98)(163,54)(165,35)(167,72)(169,44)(171,100)(173,56)(175,36)};
\addplot[og] coordinates {(50,1)(52,3)(54,6)(56,4)(58,10)(60,6)(62,16)(64,9)(66,25)(68,12)(70,8)(72,20)(74,12)(76,30)(78,15)(80,9)(82,22)(84,13)(86,32)(88,16)(90,10)(92,24)(94,14)(96,34)(98,17)(100,10)(102,25)(104,14)(106,35)(108,18)(110,11)(112,26)(114,15)(116,36)(118,18)(120,11)(122,27)(124,15)(126,38)(128,19)(130,12)(132,28)(134,16)(136,40)(138,20)(140,12)(142,29)(144,16)(146,42)(148,21)(150,13)(152,30)(154,17)(156,44)(158,22)(160,13)(162,31)(164,18)(166,46)(168,23)(170,14)(172,32)(174,18)};
\addplot[og] coordinates {(80,1)(82,3)(84,1.5)(86,6)(88,2.5)(90,1.2)(92,5)(94,2)(96,8)(98,3.5)(100,1.5)(102,6)(104,2.8)(106,10)(108,4)(110,1.8)(112,7)(114,3.2)(116,12)(118,5)(120,2)(122,8)(124,3.6)(126,14)(128,6)(130,2.5)(132,9)(134,4)(136,15)(138,6.5)(140,2.8)(142,10)(144,4.5)(146,17)(148,7)(150,3)(152,11)(154,5)(156,18)(158,7.5)(160,3.2)(162,12)(164,5.5)(166,20)(168,8)(170,3.5)(172,13)(174,6)};
\addplot[og] coordinates {(85,10)(87,25)(89,15)(91,40)(93,22)(95,60)(97,35)(99,80)(101,45)(103,100)(105,55)(107,120)(109,65)(111,90)(113,140)(115,75)(117,110)(119,60)(121,130)(123,80)(125,150)(127,90)(129,120)(131,70)(133,140)(135,85)(137,160)(139,95)(141,125)(143,75)(145,145)(147,90)(149,165)(151,100)(153,130)(155,80)(157,150)(159,95)(161,170)(163,105)(165,135)(167,85)(169,155)(171,100)(173,175)(175,110)};
\addplot[og] coordinates {(60,2)(62,6)(64,3.5)(66,12)(68,6)(70,18)(72,9)(74,5)(76,14)(78,7)(80,20)(82,10)(84,5.5)(86,15)(88,8)(90,18)(92,9)(94,5)(96,13)(98,7)(100,16)(102,8)(104,4.5)(106,12)(108,6)(110,14)(112,7)(114,4)(116,10)(118,5.5)(120,12)(122,6)(124,3.5)(126,9)(128,5)(130,11)(132,5.5)(134,3)(136,8)(138,4.5)(140,10)(142,5)(144,2.8)(146,7)(148,4)(150,9)(152,4.5)(154,2.5)(156,6.5)(158,3.5)(160,8)(162,4)(164,2.2)(166,6)(168,3.2)(170,7)(172,3.6)(174,2)};
\addplot[og] coordinates {(70,1.2)(72,0.6)(74,2)(76,0.8)(78,1.5)(80,0.5)(82,2.5)(84,1)(86,0.6)(88,1.8)(90,0.7)(92,3)(94,1.2)(96,0.6)(98,2)(100,0.8)(102,3.2)(104,1.3)(106,0.6)(108,2.2)(110,0.9)(112,3.5)(114,1.4)(116,0.7)(118,2.4)(120,1)(122,3.8)(124,1.5)(126,0.7)(128,2.6)(130,1.1)(132,4)(134,1.6)(136,0.8)(138,2.8)(140,1.2)(142,4.2)(144,1.7)(146,0.8)(148,3)(150,1.3)(152,4.5)(154,1.8)(156,0.9)(158,3.2)(160,1.4)(162,4.8)(164,2)(166,1)(168,3.4)(170,1.5)(172,5)(174,2.1)};
\addplot[og] coordinates {(62,3)(64,8)(66,15)(68,10)(70,28)(72,16)(74,40)(76,22)(78,14)(80,35)(82,20)(84,50)(86,28)(88,17)(90,42)(92,24)(94,55)(96,30)(98,18)(100,40)(102,24)(104,52)(106,28)(108,16)(110,38)(112,22)(114,48)(116,26)(118,15)(120,35)(122,20)(124,45)(126,25)(128,14)(130,32)(132,19)(134,42)(136,23)(138,13)(140,30)(142,18)(144,40)(146,22)(148,12)(150,28)(152,17)(154,38)(156,21)(158,12)(160,27)(162,16)(164,36)(166,20)(168,11)(170,26)(172,15)(174,34)};
\addplot[og] coordinates {(100,1)(102,2.5)(104,1.3)(106,4)(108,2)(110,1)(112,3.5)(114,1.8)(116,5)(118,2.4)(120,1.2)(122,4)(124,2)(126,6)(128,2.8)(130,1.4)(132,4.5)(134,2.2)(136,7)(138,3.2)(140,1.6)(142,5)(144,2.5)(146,8)(148,3.6)(150,1.8)(152,5.5)(154,2.8)(156,9)(158,4)(160,2)(162,6)(164,3)(166,10)(168,4.5)(170,2.2)(172,6.5)(174,3.2)};
\addplot[og] coordinates {(45,1)(47,2)(49,4)(51,2.5)(53,7)(55,4)(57,12)(59,6)(61,3.5)(63,10)(65,5.5)(67,16)(69,8)(71,4.5)(73,13)(75,7)(77,20)(79,10)(81,5.5)(83,15)(85,8)(87,22)(89,11)(91,6)(93,17)(95,9)(97,24)(99,12)(101,6.5)(103,18)(105,9.5)(107,25)(109,12.5)(111,7)(113,19)(115,10)(117,26)(119,13)(121,7.5)(123,20)(125,10.5)(127,27)(129,13.5)(131,8)(133,21)(135,11)(137,28)(139,14)(141,8.5)(143,22)(145,11.5)(147,29)(149,14.5)(151,9)(153,23)(155,12)(157,30)(159,15)(161,9.5)(163,24)(165,12.5)(167,31)(169,15.5)(171,10)(173,25)(175,13)};
% blue: Lat <= -20
\addplot[bu] coordinates {(50,0.7)(53,2)(56,5)(60,10)(63,18)(66,25)(68.5,35)(70.8,40)(72.5,80)(73.7,80)(74.5,206)(77,206)(78.6,121)(80,121)(80.6,363)(81.8,246)(86.7,246)};
\addplot[bu] coordinates {(89,100)(91,83)(95.8,83)(96.6,40)(98,30)(101,22)(104,15)(108,10)(112,7)(116,5)(120,3)(125,2)(130,1.5)(135,1)(140,0.8)};
\addplot[bu] coordinates {(50.8,1.07)(53,2.5)(55.7,5)(58,8)(60.6,12.5)(63,16)(66,20.6)(70,19)(74,21)(78,20)(82,21.6)(85,22)(88.5,22.5)(93.4,26)(97.5,40.5)(102.5,65)(108.8,95)(114.7,139)(121,206)(126.9,224)(134.3,257)(140.8,295)(144,311)(145,545)(151,545)(152,257)(156.5,229)(162,183)(167,157)(174.4,130)(175,128)};
\addplot[bu] coordinates {(70,0.8)(74,1.5)(78,2.5)(82,3)(86,3.5)(89,4.2)(92.6,5)(98.3,6.6)(102.5,7.6)(108,11)(115.5,18)(123.6,31)(134,51)(145.7,80)(157,121)(166,168)(174.4,209)(175,210)};
\addplot[bu] coordinates {(60,0.7)(64,1.5)(68,2.5)(72,3)(76,3.5)(80,4)(84,4.5)(88,5)(92,5.5)(96,5.8)(100,6)(105,6.3)(109.8,6.9)(115.5,11)(122.8,17)(129.5,27)(140.8,37)(154,53)(162,59)(174.4,77)(175,78)};
\addplot[bu] coordinates {(95,0.8)(100,1.2)(105,1)(110,1.5)(115,1.2)(120,1.8)(125,1.5)(130,2)(134,2.5)(136,5.8)(137.6,10)(139,20.5)(142,19)(145,21)(148,18)(151,20)(154,17)(157,15)(159,19.7)(162,25)(164,30)(166,43)(168,45)(170,40)(172,45)(174,39)(175,38)};
\addplot[bu] coordinates {(50,0.8)(53,2)(55,4)(57.2,7.9)(60,12)(62.2,17)(65.6,21.6)(69.5,27)(72,24.7)(75,18)(77.9,12.5)(81.8,7.9)(86,5)(90,3)(94,2)(98,1.3)(102,0.9)(106,0.7)};
\addplot[bu] coordinates {(52,0.7)(54,1.5)(56,3)(58,5)(60,8)(62,11)(64,12.5)(66,11)(68,12)(70,10)(72,9)(74,7)(76,6)(78,4.5)(80,3.5)(83,2.5)(86,1.8)(90,1.2)(95,0.8)};
\addplot[bu] coordinates {(53,0.8)(55,1.5)(57,2.5)(60,4)(63,5.5)(66,6.3)(68,6)(70,6.5)(73,5)(76,4)(79,3)(82,2.5)(86,1.5)(90,1)(95,0.7)};
\addplot[bu] coordinates {(55,0.8)(58,1.2)(61,1.6)(64,2)(67,2.3)(70,2)(73,2.3)(76,1.8)(79,1.5)(82,1.2)(86,1)(90,0.8)};
\addplot[bu] coordinates {(100,1.2)(104,2)(108,1.5)(112,2.5)(116,1.8)(120,3)(124,2)(128,3.5)(132,2.2)(136,2.8)(140,1.5)(144,2.5)(148,1.8)(152,3)(156,2)(160,1.5)(164,2.5)(168,1.2)(172,2)(175,1.5)};
\addplot[bu] coordinates {(150,0.8)(153,1.5)(156,4)(158,8)(160.4,12.5)(162,11)(164,8)(166,5)(168,4)(170,6)(172,8)(175,7.9)};
\addplot[bu] coordinates {(140,0.8)(145,1.5)(150,2.5)(155,4)(158,6)(161,8)(164,10)(167,13)(170,16)(172,20)(175,22)};
\addplot[bu] coordinates {(105,1)(108,2)(111,3.5)(114,5)(117,7)(120,8)(123,7)(126,5)(129,3.5)(132,2.5)(135,1.8)(138,1.2)(141,0.9)};
\addplot[bu] coordinates {(95,2)(98,4)(101,6)(103,8)(106,6)(109,5)(112,4)(115,3)(118,5)(121,4)(124,2.5)(127,2)(130,1.5)(133,1)};
% top date labels
\node[dl] at ([xshift=-3.5pt,yshift=2.5pt]axis cs:0,20000) {1/22/20};
\node[dl] at ([xshift=-3.5pt,yshift=2.5pt]axis cs:31,20000) {2/22/20};
\node[dl] at ([xshift=-3.5pt,yshift=2.5pt]axis cs:60,20000) {3/22/20};
\node[dl] at ([xshift=-3.5pt,yshift=2.5pt]axis cs:91,20000) {4/22/20};
\node[dl] at ([xshift=-3.5pt,yshift=2.5pt]axis cs:121,20000) {5/22/20};
\node[dl] at ([xshift=-3.5pt,yshift=2.5pt]axis cs:152,20000) {6/22/20};
\node[dl] at ([xshift=-3.5pt,yshift=2.5pt]axis cs:169.3,20000) {7/17/20};
\end{axis}
\begin{axis}[
  ymin=0.01, ymax=200,
  xtick=\empty, ytick pos=right, yticklabel pos=right,
  ytick={0.01,0.1,1,10,100}, yticklabels={0.01,0.1,1,10,100},
  minor ytick={0.02,0.03,0.04,0.05,0.06,0.07,0.08,0.09,0.2,0.3,0.4,0.5,0.6,0.7,0.8,0.9,2,3,4,5,6,7,8,9,20,30,40,50,60,70,80,90,200},
  yticklabel style={font={\tsans\fs{12}}, xshift=5pt},
]
\addplot[dsh, cor] coordinates {(0,8.4)(1.7,8.2)(17,7.06)(33.9,5.83)(54,5.37)(68.8,5.75)(90.2,7.06)(112.8,8.43)(133.2,9.93)(145.5,10.5)(174.5,10.2)};
\addplot[dsh, cor] coordinates {(0,5.0)(33.9,5.01)(54,5.44)(79,5.44)(112.8,5.99)(145.5,6.24)(174.5,6.15)};
\addplot[dsh, cbl] coordinates {(0,5.3)(1.7,5.45)(22.6,7.06)(51.8,10.6)(80.1,19.7)(112.8,46.5)(129.7,62.8)(145.5,82.6)(151,80.4)(174.5,72.9)};
\addplot[dsh, black] coordinates {(0,179)(1.7,166)(22.6,65.5)(32.7,49.8)(49.6,32.2)(63.1,25.8)(80.1,19.1)(97.1,15.0)(112.8,11.5)(131,10.1)(145.5,9.15)(174.5,8.9)};
\end{axis}
% inward tick marks on the box (box is 362pt x 362.5pt, origin at its lower left)
\foreach \d in {0,50,100,150} {
  \draw[tk] ({\d*2.03485pt},0pt) -- ++(0pt,8.5pt);
  \draw[tk] ({\d*2.03485pt},362.5pt) -- ++(0pt,-8.5pt);
}
\foreach \d in {10,20,30,40,60,70,80,90,110,120,130,140,160,170} {
  \draw[tk] ({\d*2.03485pt},0pt) -- ++(0pt,5pt);
  \draw[tk] ({\d*2.03485pt},362.5pt) -- ++(0pt,-5pt);
}
\foreach \e in {0,1,2,3,4} {
  \draw[tk] (0pt,{\e*84.283pt}) -- ++(8.5pt,0pt);
  \draw[tk] (362pt,{\e*84.283pt}) -- ++(-8.5pt,0pt);
}
\foreach \e in {0,1,2,3} {
  \foreach \m in {2,3,4,5,6,7,8,9} {
    \draw[tk] (0pt,{(\e+0.4342945*ln(\m))*84.283pt}) -- ++(5pt,0pt);
    \draw[tk] (362pt,{(\e+0.4342945*ln(\m))*84.283pt}) -- ++(-5pt,0pt);
  }
}
% legend
\draw[black, line width=1.5pt] (102pt,346pt) -- (152.5pt,346pt);
\draw[cgold, line width=1.5pt] (102pt,328.5pt) -- (152.5pt,328.5pt);
\draw[cbl, line width=1.5pt] (102pt,312pt) -- (152.5pt,312pt);
\node[anchor=base west, inner sep=0, font={\fs{11.7}}] at (157pt,345.5pt) {Lat {\tsans ≧}+20\textsuperscript{0}};
\node[anchor=base west, inner sep=0, font={\fs{11.7}}, text=cgold] at (157pt,328pt) {−20\textsuperscript{0} < Lat < +20\textsuperscript{0}};
\node[anchor=base west, inner sep=0, font={\fs{11.7}}, text=cbl] at (157pt,311.5pt) {Lat {\tsans ≦}−20\textsuperscript{0}};
% axis titles
\node[anchor=base, inner sep=0, font={\lserif\fs{13.4}}] at (179pt,-33.5pt) {Time, in days, from 22 January 2020};
\node[rotate=90, anchor=base, inner sep=0, font={\lserif\fs{12.1}}] at (-51pt,188pt) {Daily Covid--19 Cases per Million};
\draw[line width=1.5pt] (-49.5pt,10pt) -- (-49.5pt,49.5pt);
\node[rotate=90, anchor=base, inner sep=0, font={\nserif\fs{12.3}}] at (412.5pt,191.5pt) {Minutes per D\textsubscript{0} Dose};
\draw[line width=1.5pt] (411.5pt,88pt) -- (411.5pt,98pt);
\draw[line width=1.5pt] (411.5pt,103pt) -- (411.5pt,112pt);
\draw[line width=1.5pt] (411.5pt,117pt) -- (411.5pt,126pt);
\fill (411.5pt,130.5pt) circle (0.9pt);
\end{tikzpicture}
\end{document}
